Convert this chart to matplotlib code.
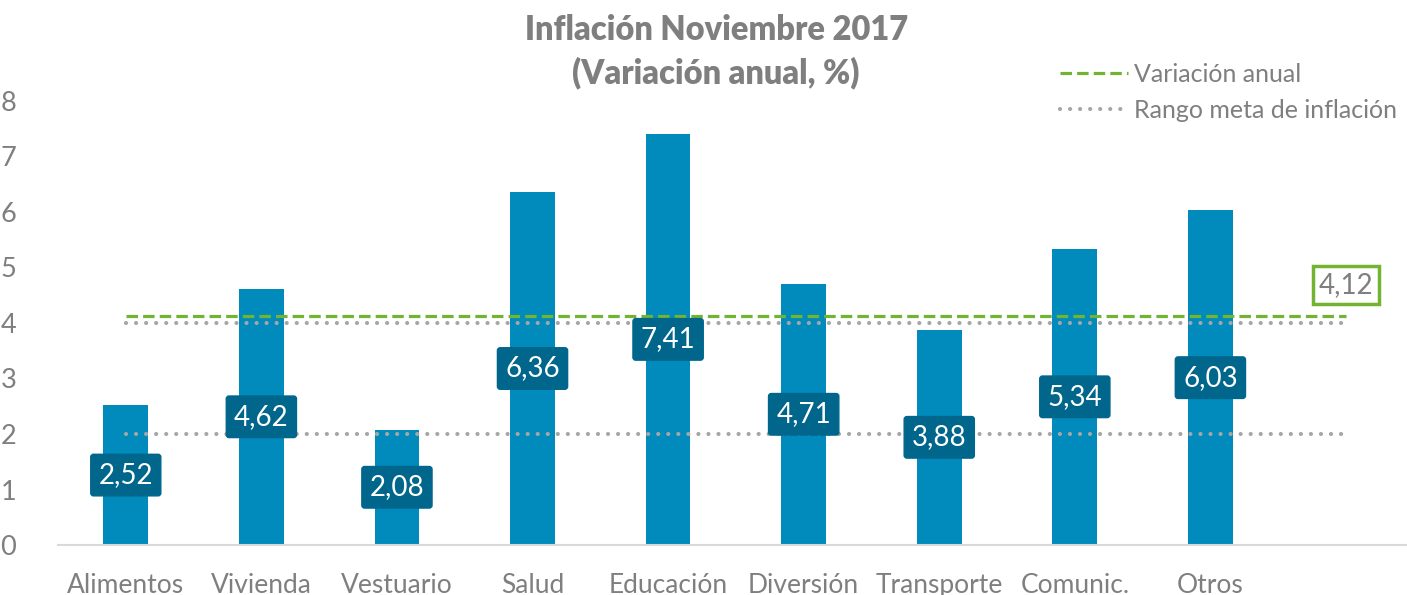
#!/usr/bin/env python3
# -*- coding: utf-8 -*-
"""
Inflación Noviembre 2017 - variación anual por grupo de gasto
"""

import matplotlib
matplotlib.use("Agg")
import matplotlib.pyplot as plt
import numpy as np

# Datos
categorias = ["Alimentos", "Vivienda", "Vestuario", "Salud", "Educación",
              "Diversión", "Transporte", "Comunic.", "Otros", ""]
variacion = [2.52, 4.62, 2.08, 6.36, 7.41, 4.71, 3.88, 5.34, 6.03]
etiquetas = ["2,52", "4,62", "2,08", "6,36", "7,41", "4,71", "3,88", "5,34", "6,03"]
variacion_anual = 4.12
etiqueta_anual = "4,12"
rango_meta = [2, 4]
y_ticks = [0, 1, 2, 3, 4, 5, 6, 7, 8]

AZUL = "#008BBC"
AZUL_OSCURO = "#00668C"
VERDE = "#72B332"
GRIS = "#7F7F7F"
GRIS_PUNTOS = "#A6A6A6"

plt.rcParams["font.family"] = ["Lato", "DejaVu Sans"]


def grafico():
    fig = plt.figure(figsize=(14.07, 5.95), dpi=100)
    ax = fig.add_axes([58 / 1407, 50 / 595, 1349 / 1407, 444 / 595])

    x = np.arange(len(categorias))
    n = len(variacion)

    # Barras
    ax.bar(x[:n], variacion, width=0.33, color=AZUL, zorder=2)

    # Líneas de referencia (de la primera a la última categoría)
    xs = [x[0], x[-1]]
    ax.plot(xs, [variacion_anual] * 2, color=VERDE, lw=2.3,
            linestyle=(0, (3.6, 1.6)), zorder=3, label="Variación anual")
    for i, r in enumerate(rango_meta):
        ax.plot(xs, [r, r], color=GRIS_PUNTOS, lw=3.0,
                linestyle=(0, (0.01, 2.4)), dash_capstyle="round", zorder=3,
                label="Rango meta de inflación" if i == 0 else None)

    # Etiquetas de datos al centro de cada barra
    for xi, v, t in zip(x[:n], variacion, etiquetas):
        ax.text(xi, v / 2, t, ha="center", va="center", color="white",
                fontsize=20, zorder=5,
                bbox=dict(boxstyle="round,pad=0.28,rounding_size=0.1",
                          fc=AZUL_OSCURO, ec=AZUL_OSCURO))

    # Etiqueta del valor anual
    ax.text(x[-1], 4.68, etiqueta_anual, ha="center", va="center", color=GRIS,
            fontsize=20, zorder=5,
            bbox=dict(boxstyle="square,pad=0.22", fc="white", ec=VERDE, lw=2.5))

    ax.set_xlim(-0.5, 9.45)
    ax.set_ylim(0, 8)
    ax.set_yticks(y_ticks)
    ax.set_xticks(x)
    ax.set_xticklabels(categorias)
    ax.tick_params(axis="y", length=0, labelsize=19.5, labelcolor=GRIS, pad=30)
    ax.tick_params(axis="x", length=0, labelsize=19, labelcolor=GRIS, pad=20)
    for s in ["top", "right", "left"]:
        ax.spines[s].set_visible(False)
    ax.spines["bottom"].set_color("#D9D9D9")
    ax.spines["bottom"].set_linewidth(1.5)

    fig.text(0.509, 0.95, "Inflación Noviembre 2017", ha="center", va="center",
             fontsize=23.5, fontweight="heavy", color=GRIS)
    fig.text(0.509, 0.878, "(Variación anual, %)", ha="center", va="center",
             fontsize=23.5, fontweight="heavy", color=GRIS)

    ax.legend(loc="upper left", bbox_to_anchor=(1060 / 1407, 1 - 63 / 595),
              bbox_transform=fig.transFigure, frameon=False, fontsize=18,
              labelcolor=GRIS, handlelength=2.7, handletextpad=0.25,
              labelspacing=0.5, borderpad=0, borderaxespad=0)

    fig.savefig("out.png", dpi=100)


if __name__ == "__main__":
    grafico()
